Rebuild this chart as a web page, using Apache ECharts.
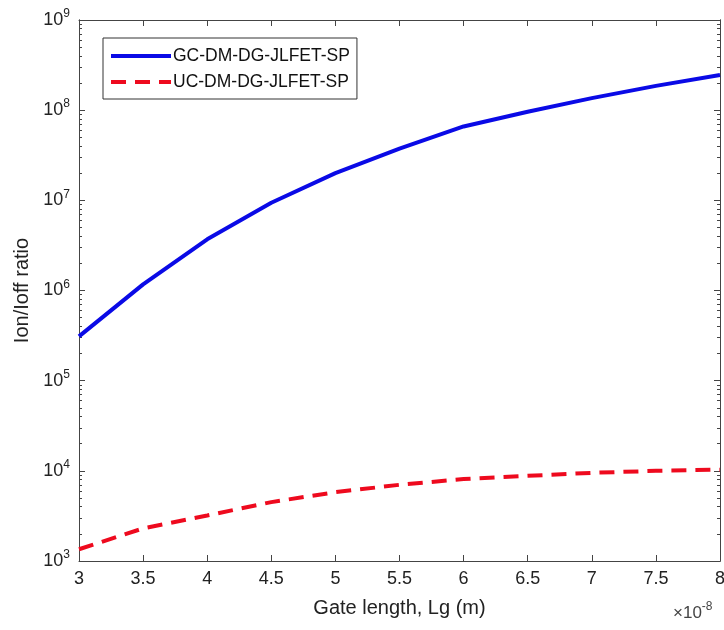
<!DOCTYPE html>
<html>
<head>
<meta charset="utf-8">
<script src="https://cdn.jsdelivr.net/npm/echarts@6/dist/echarts.min.js"></script>
<style>
  html, body { margin: 0; padding: 0; background: #fff; }
  #chart { width: 724px; height: 630px; }
</style>
</head>
<body>
<div id="chart"></div>
<script>
// gate length, x 1e-8 m
var gateLength = [3, 3.5, 4, 4.5, 5, 5.5, 6, 6.5, 7, 7.5, 8];
var gcRatio = [3.1e5, 1.17e6, 3.7e6, 9.4e6, 2.0e7, 3.75e7, 6.6e7, 9.6e7, 1.36e8, 1.86e8, 2.45e8];
var ucRatio = [1.35e3, 2.3e3, 3.2e3, 4.5e3, 5.8e3, 7.0e3, 8.1e3, 8.8e3, 9.5e3, 1.0e4, 1.03e4];
var seriesNames = ["GC-DM-DG-JLFET-SP", "UC-DM-DG-JLFET-SP"];
var decades = [1e3, 1e4, 1e5, 1e6, 1e7, 1e8];

// minor ticks at 2..9 of every decade (MATLAB style)
var minorTicks = [];
decades.forEach(function (d) {
  for (var k = 2; k <= 9; k++) minorTicks.push(k * d);
});

var font = "Liberation Sans";
var boxColor = "#444";

function pairs(ys) {
  return gateLength.map(function (x, i) { return [x, ys[i]]; });
}

function logAxis(pos, opts) {
  var base = {
    type: "log",
    logBase: 10,
    min: 1e3,
    max: 1e9,
    position: pos,
    axisLine: { show: true, onZero: false, lineStyle: { color: boxColor, width: 1 } },
    axisTick: { show: true, inside: true, length: 6, lineStyle: { color: boxColor } },
    axisLabel: { show: false },
    splitLine: { show: false }
  };
  return Object.assign(base, opts || {});
}

var chart = echarts.init(document.getElementById("chart"));

var option = {
  animation: false,
  backgroundColor: "#fff",
  textStyle: { fontFamily: font },
  grid: { left: 79, right: 4, top: 20, bottom: 69, containLabel: false, outerBoundsMode: "none" },
  legend: {
    orient: "vertical",
    left: 103,
    top: 38,
    padding: [9, 7, 8, 6],
    itemGap: 8,
    itemWidth: 60,
    itemHeight: 14,
    borderColor: "#333",
    borderWidth: 1,
    backgroundColor: "#fff",
    itemStyle: { opacity: 0 },
    lineStyle: { width: 4 },
    textStyle: { fontFamily: font, fontSize: 17.5, color: "#111", padding: [0, 0, 0, -3] },
    data: seriesNames
  },
  xAxis: [
    {
      type: "value",
      min: 3,
      max: 8,
      interval: 0.5,
      position: "bottom",
      name: "Gate length, Lg (m)",
      nameLocation: "middle",
      nameGap: 37,
      nameTextStyle: { fontFamily: font, fontSize: 20, color: "#222" },
      axisLine: { show: true, onZero: false, lineStyle: { color: boxColor } },
      axisTick: { show: true, inside: true, length: 6, lineStyle: { color: boxColor } },
      axisLabel: { fontFamily: font, fontSize: 18, color: "#222", margin: 9 },
      splitLine: { show: false }
    },
    {
      type: "value",
      min: 3,
      max: 8,
      interval: 0.5,
      position: "top",
      axisLine: { show: true, onZero: false, lineStyle: { color: boxColor } },
      axisTick: { show: true, inside: true, length: 6, lineStyle: { color: boxColor } },
      axisLabel: { show: false },
      splitLine: { show: false }
    }
  ],
  yAxis: [
    logAxis("left", {
      name: "Ion/Ioff ratio",
      nameLocation: "middle",
      nameGap: 47,
      nameTextStyle: { fontFamily: font, fontSize: 20, color: "#222" },
      axisLabel: {
        show: true,
        margin: 9,
        formatter: function (v) {
          return "10{sup|" + Math.round(Math.log10(v)) + "}";
        },
        fontFamily: font,
        fontSize: 18,
        color: "#222",
        rich: {
          sup: { fontFamily: font, fontSize: 12, color: "#222", verticalAlign: "top", padding: [0, 0, 12, 0] }
        }
      }
    }),
    logAxis("right"),
    logAxis("left", { axisTick: { show: true, inside: true, length: 3, customValues: minorTicks, lineStyle: { color: boxColor } } }),
    logAxis("right", { axisTick: { show: true, inside: true, length: 3, customValues: minorTicks, lineStyle: { color: boxColor } } })
  ],
  series: [
    {
      name: seriesNames[0],
      type: "line",
      data: pairs(gcRatio),
      symbol: "none",
      smooth: false,
      lineStyle: { color: "#0a0ae6", width: 4 },
      itemStyle: { color: "#0a0ae6" }
    },
    {
      name: seriesNames[1],
      type: "line",
      data: pairs(ucRatio),
      symbol: "none",
      smooth: false,
      lineStyle: { color: "#ee0a1e", width: 4, type: [15, 9] },
      itemStyle: { color: "#ee0a1e" }
    }
  ],
  graphic: [
    {
      type: "text",
      left: 673,
      top: 601,
      style: {
        text: "\u00d710{s|-8}",
        fontFamily: font,
        fontSize: 17,
        fill: "#444",
        rich: { s: { fontFamily: font, fontSize: 12, fill: "#444", padding: [0, 0, 12, 0] } }
      }
    }
  ]
};

chart.setOption(option);
</script>
</body>
</html>
